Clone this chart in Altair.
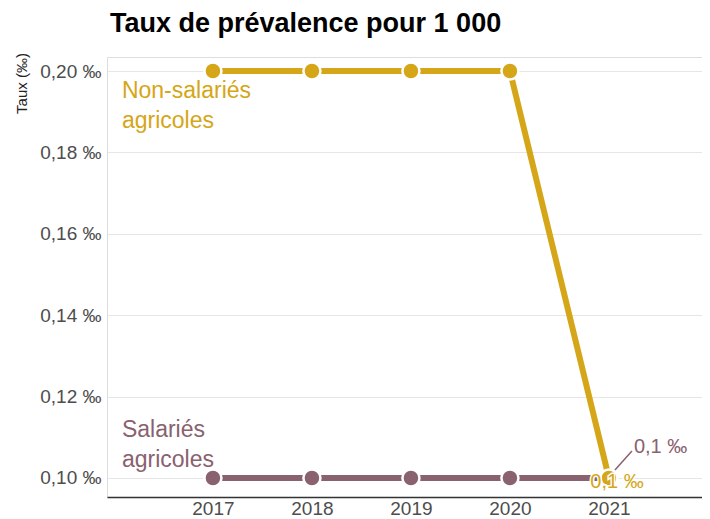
import altair as alt
import pandas as pd

years = [2017, 2018, 2019, 2020, 2021]
non_salaries = [0.20, 0.20, 0.20, 0.20, 0.10]
salaries = [0.10, 0.10, 0.10, 0.10, 0.10]
series_names = ["Non-salariés agricoles", "Salariés agricoles"]
y_ticks = [0.10, 0.12, 0.14, 0.16, 0.18, 0.20]

GOLD = "#D5A617"
MAUVE = "#89616F"
FONT = "Liberation Sans"

rows = []
for y, v in zip(years, non_salaries):
    rows.append({"annee": y, "taux": v, "serie": series_names[0]})
for y, v in zip(years, salaries):
    rows.append({"annee": y, "taux": v, "serie": series_names[1]})
df = pd.DataFrame(rows)

df_non = df[df.serie == series_names[0]]
df_sal = df[df.serie == series_names[1]]

x_scale = alt.Scale(domain=[2015.93, 2021.94], nice=False, zero=False)
y_scale = alt.Scale(domain=[0.09533, 0.20344], nice=False, zero=False)

x_enc = alt.X("annee:Q", scale=x_scale,
              axis=alt.Axis(values=years, format="d", title=None, grid=False,
                            ticks=False, domain=True, domainColor="#333333",
                            domainWidth=1.5, labelPadding=2, labelFontSize=19,
                            labelColor="#4d4d4d", labelFont=FONT))
y_enc = alt.Y("taux:Q", scale=y_scale,
              axis=alt.Axis(values=y_ticks,
                            labelExpr="replace(format(datum.value, '.2f'), '.', ',') + ' ‰'",
                            title="Taux (‰)", titleFontSize=15, titleFont=FONT,
                            titleFontWeight="normal", titleColor="#222222",
                            titleAngle=-90, titleX=-86, titleY=26,
                            titleAlign="center", titleBaseline="middle",
                            grid=True, gridColor="#e6e6e6", gridWidth=1,
                            domain=False, ticks=False, labelPadding=6,
                            labelFontSize=19, labelColor="#4d4d4d", labelFont=FONT))

def series_layers(d, color):
    line = alt.Chart(d).mark_line(color=color, strokeWidth=6).encode(x=x_enc, y=y_enc)
    pts = alt.Chart(d).mark_point(filled=True, shape="circle", size=290, color=color,
                                  stroke="white", strokeWidth=2.5, opacity=1).encode(
        x=x_enc, y=y_enc)
    return [line, pts]

# series name labels anchored at first year
lab_non = pd.DataFrame({"annee": [years[0]], "taux": [non_salaries[0]],
                        "txt": [["Non-salariés", "agricoles"]]})
lab_sal = pd.DataFrame({"annee": [years[0]], "taux": [salaries[0]],
                        "txt": [["Salariés", "agricoles"]]})

t_non = alt.Chart(lab_non).mark_text(align="left", baseline="alphabetic", dx=-91, dy=27,
                                     fontSize=23, font=FONT, color=GOLD, lineHeight=30).encode(
    x=x_enc, y=y_enc, text="txt")
t_sal = alt.Chart(lab_sal).mark_text(align="left", baseline="alphabetic", dx=-91, dy=-41,
                                     fontSize=23, font=FONT, color=MAUVE, lineHeight=30).encode(
    x=x_enc, y=y_enc, text="txt")

# end value labels
end_non = pd.DataFrame({"annee": [years[-1]], "taux": [non_salaries[-1]],
                        "txt": ["0,1 ‰"]})
end_sal = pd.DataFrame({"annee": [years[-1]], "taux": [salaries[-1]],
                        "txt": ["0,1 ‰"]})

e_non_halo = alt.Chart(end_non).mark_text(align="center", baseline="middle", dx=8, dy=4,
                                          fontSize=20, font=FONT, color="white",
                                          stroke="white", strokeWidth=3).encode(
    x=x_enc, y=y_enc, text="txt")
e_non = alt.Chart(end_non).mark_text(align="center", baseline="middle", dx=8, dy=4,
                                     fontSize=20, font=FONT, color=GOLD).encode(
    x=x_enc, y=y_enc, text="txt")
e_sal = alt.Chart(end_sal).mark_text(align="left", baseline="middle", dx=25, dy=-31,
                                     fontSize=20, font=FONT, color=MAUVE).encode(
    x=x_enc, y=y_enc, text="txt")
leader = alt.Chart(end_sal).mark_rule(color=MAUVE, strokeWidth=1.5,
                                      xOffset=6, yOffset=-8, x2Offset=23, y2Offset=-27).encode(
    x=x_enc, y=y_enc, x2="annee:Q", y2="taux:Q")

layers = series_layers(df_sal, MAUVE) + series_layers(df_non, GOLD) + \
    [t_non, t_sal, leader, e_sal, e_non_halo, e_non]

chart = alt.layer(*layers).properties(
    width=595, height=440,
    autosize=alt.AutoSizeParams(type="none"),
    padding={"left": 99, "top": 49, "right": 0, "bottom": 22},
    title=alt.TitleParams("Taux de prévalence pour 1 000", anchor="start", frame="group",
                          dx=3, offset=15, fontSize=27, fontWeight="bold", font=FONT,
                          color="#000000"),
).configure_view(stroke=None).configure(background="white")

chart.save("out.html", embed_options={"renderer": "svg", "actions": False})
